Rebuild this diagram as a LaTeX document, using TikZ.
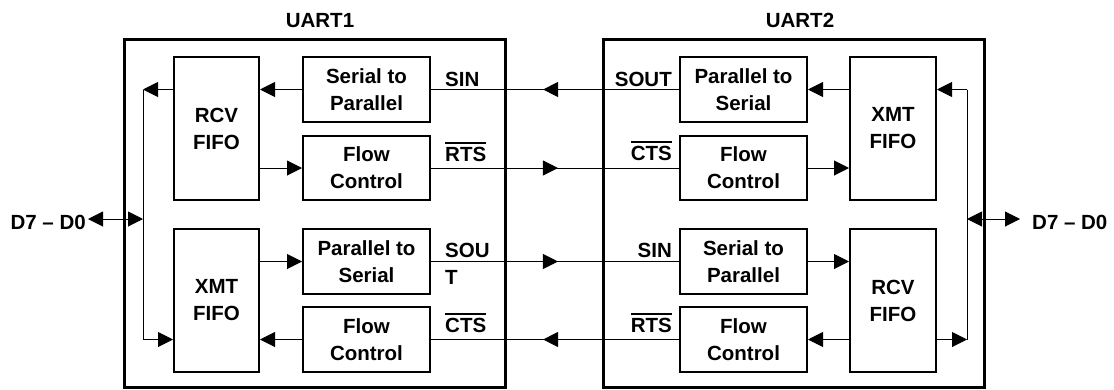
\documentclass[tikz,border=0pt]{standalone}
\usepackage{fontspec}
\setmainfont{Liberation Sans}
\usetikzlibrary{arrows.meta,decorations.markings}
\newcommand\ovl[1]{\vbox{\hrule height 2pt\kern 2.5pt\hbox{#1}}}
\begin{document}
\begin{tikzpicture}[x=1pt,y=-1pt,
  every node/.style={font=\fontsize{20.5}{27}\selectfont\bfseries, inner sep=0pt},
  uart/.style={draw, line width=3pt, minimum width=381pt, minimum height=348pt},
  blk/.style={draw, line width=2pt, minimum width=127pt, minimum height=65pt, align=center},
  fifo/.style={draw, line width=2pt, minimum width=85pt, minimum height=143pt, align=center},
  conn/.style={line width=1pt},
  tip/.tip={Triangle[length=15pt,width=15pt]},
  arr/.style={line width=1pt, -tip},
  dbl/.style={line width=1pt, tip-tip},
  midarr/.style={postaction={decorate}, decoration={markings, mark=at position #1 with {\arrow{tip}}}}
]
\useasboundingbox (0,0) rectangle (1114,389);

% outer boxes and titles
\node[uart] (u1) at (314.5,213.5) {};
\node[uart] (u2) at (793.75,213.5) {};
\node[anchor=base] (t1) at (320,27) {UART1};
\node[anchor=base] (t2) at (800,27) {UART2};

% UART1 blocks
\node[fifo] (rcv1) at (216.5,128.5) {RCV\\FIFO};
\node[blk] (s2p1) at (366.5,89.5) {Serial to\\Parallel};
\node[blk, minimum height=64pt] (fc1a) at (366.5,168) {Flow\\Control};
\node[fifo] (xmt1) at (216.5,300.5) {XMT\\FIFO};
\node[blk] (p2s1) at (366.5,261.5) {Parallel to\\Serial};
\node[blk] (fc1b) at (366.5,339.5) {Flow\\Control};

% UART2 blocks
\node[blk] (p2s2) at (743.5,89.5) {Parallel to\\Serial};
\node[blk, minimum height=64pt] (fc2a) at (743.5,168) {Flow\\Control};
\node[fifo, minimum width=86pt] (xmt2) at (893,128.5) {XMT\\FIFO};
\node[blk] (s2p2) at (743.5,261.5) {Serial to\\Parallel};
\node[blk] (fc2b) at (743.5,339.5) {Flow\\Control};
\node[fifo, minimum width=86pt] (rcv2) at (893,300.5) {RCV\\FIFO};

% bus coordinates
\coordinate (b1t) at (143,89.5);
\coordinate (b1b) at (143,339.5);
\coordinate (b1m) at (143,219);
\coordinate (b2t) at (967,89.5);
\coordinate (b2b) at (967,339.5);
\coordinate (b2m) at (967,219);
\coordinate (d1tip) at (88,219);
\coordinate (d2tip) at (1020,219);

% D7-D0 labels
\node[anchor=base east] (d1) at (86,229) {D7 – D0};
\node[anchor=base west] (d2) at (1032,229) {D7 – D0};

% signal labels UART1
\node[anchor=base west] (l1) at (445,86) {SIN};
\node[anchor=base west] (l2) at (445,161) {\ovl{RTS}};
\node[anchor=north west, align=left] (l3) at (445,242.5) {SOU\\T};
\node[anchor=base west] (l4) at (445,332) {\ovl{CTS}};
% signal labels UART2
\node[anchor=base east] (r1) at (672,86) {SOUT};
\node[anchor=base east] (r2) at (672,160) {\ovl{CTS}};
\node[anchor=base east] (r3) at (672,257) {SIN};
\node[anchor=base east] (r4) at (672,332) {\ovl{RTS}};

% UART1 internal connections
\draw[arr] (s2p1.west) -- (s2p1.west -| rcv1.east);
\draw[arr] (rcv1.west |- b1t) -- (b1t);
\draw[arr] (fc1a.west -| rcv1.east) -- (fc1a.west);
\draw[arr] (p2s1.west -| xmt1.east) -- (p2s1.west);
\draw[arr] (fc1b.west) -- (fc1b.west -| xmt1.east);
\draw[arr] (b1b) -- (b1b -| xmt1.west);
\draw[conn] (b1t) -- (b1b);
\draw[dbl] (d1tip) -- (b1m);

% UART2 internal connections
\draw[arr] (p2s2.east -| xmt2.west) -- (p2s2.east);
\draw[arr] (b2t) -- (b2t -| xmt2.east);
\draw[arr] (fc2a.east) -- (fc2a.east -| xmt2.west);
\draw[arr] (s2p2.east) -- (s2p2.east -| rcv2.west);
\draw[arr] (fc2b.east -| rcv2.west) -- (fc2b.east);
\draw[arr] (rcv2.east |- fc2b.east) -- (b2b);
\draw[conn] (b2t) -- (b2b);
\draw[dbl] (b2m) -- (d2tip);

% inter-chip connections
\draw[conn, midarr=0.548] (p2s2.west) -- (s2p1.east);
\draw[conn, midarr=0.512] (fc1a.east) -- (fc2a.west);
\draw[conn, midarr=0.512] (p2s1.east) -- (s2p2.west);
\draw[conn, midarr=0.548] (fc2b.west) -- (fc1b.east);
\end{tikzpicture}
\end{document}
